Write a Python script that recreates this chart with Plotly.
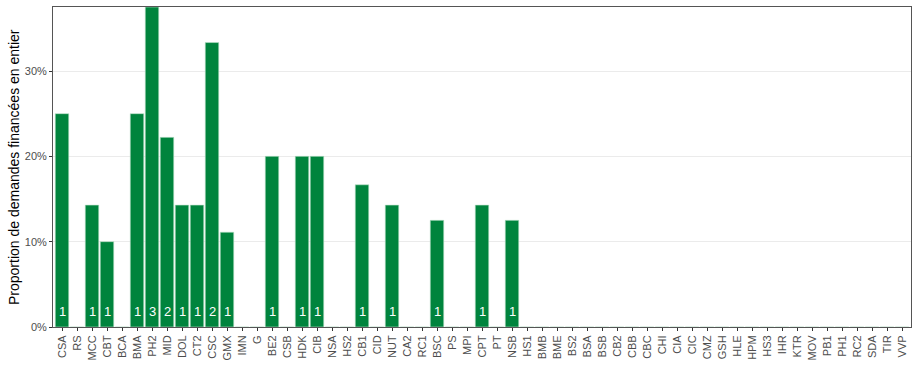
import plotly.graph_objects as go

categories = ["CSA","RS","MCC","CBT","BCA","BMA","PH2","MID","DOL","CT2","CSC","GMX","IMN","G","BE2","CSB","HDK","CIB","NSA","HS2","CB1","CID","NUT","CA2","RC1","BSC","PS","MPI","CPT","PT","NSB","HS1","BMB","BME","BS2","BSA","BSB","CB2","CBB","CBC","CHI","CIA","CIC","CMZ","GSH","HLE","HPM","HS3","IHR","KTR","MOV","PB1","PH1","RC2","SDA","TIR","VVP"]
proportions = [0.25,0,1/7,0.10,0,0.25,0.375,2/9,1/7,1/7,1/3,1/9,0,0,0.20,0,0.20,0.20,0,0,1/6,0,1/7,0,0,0.125,0,0,1/7,0,0.125] + [0]*26
counts = [1,0,1,1,0,1,3,2,1,1,2,1,0,0,1,0,1,1,0,0,1,0,1,0,0,1,0,0,1,0,1] + [0]*26
y_ticks = [0,0.1,0.2,0.3]
y_tick_labels = ["0%","10%","20%","30%"]

FONT = "Liberation Sans, Arial, sans-serif"

fig = go.Figure()
fig.add_trace(go.Bar(
    x=categories, y=proportions,
    marker=dict(color="#00843D", line=dict(color="#BFE3CC", width=0.6)),
    width=0.9, hoverinfo="skip",
))

for c, n in zip(categories, counts):
    if n > 0:
        fig.add_annotation(x=c, y=0, text=str(n), showarrow=False,
                           yanchor="bottom", yshift=6,
                           font=dict(color="white", size=13, family=FONT))

fig.add_annotation(x=-53/858, xref="paper", y=0.5, yref="paper",
                   xanchor="left", yanchor="middle", xshift=4,
                   text="Proportion de demandes financées en entier", textangle=-90,
                   showarrow=False, font=dict(size=14, color="black", family=FONT))

fig.update_layout(
    width=914, height=366,
    margin=dict(l=53, r=3, t=7, b=39, autoexpand=False),
    plot_bgcolor="white", paper_bgcolor="white",
    showlegend=False, bargap=0.1,
    font=dict(family=FONT, color="#4D4D4D"),
)
fig.update_xaxes(
    type="category", tickangle=-90, tickfont=dict(size=11, color="#4D4D4D", family=FONT),
    showgrid=False, ticks="outside", ticklen=3, tickcolor="#333333",
    showline=True, linecolor="#555555", linewidth=1, mirror=True,
    range=[-0.6, len(categories) - 0.4], automargin=False,
)
fig.update_yaxes(
    range=[0, 0.375], tickvals=y_ticks, ticktext=y_tick_labels,
    tickfont=dict(size=11, color="#4D4D4D", family=FONT),
    showgrid=True, gridcolor="#EBEBEB", gridwidth=1,
    ticks="outside", ticklen=3, tickcolor="#333333",
    showline=True, linecolor="#555555", linewidth=1, mirror=True,
    zeroline=False, automargin=False,
)

fig.write_html("out.html", config={"displayModeBar": False, "staticPlot": True},
               post_script="document.body.style.margin='0px';document.body.style.overflow='hidden';")
